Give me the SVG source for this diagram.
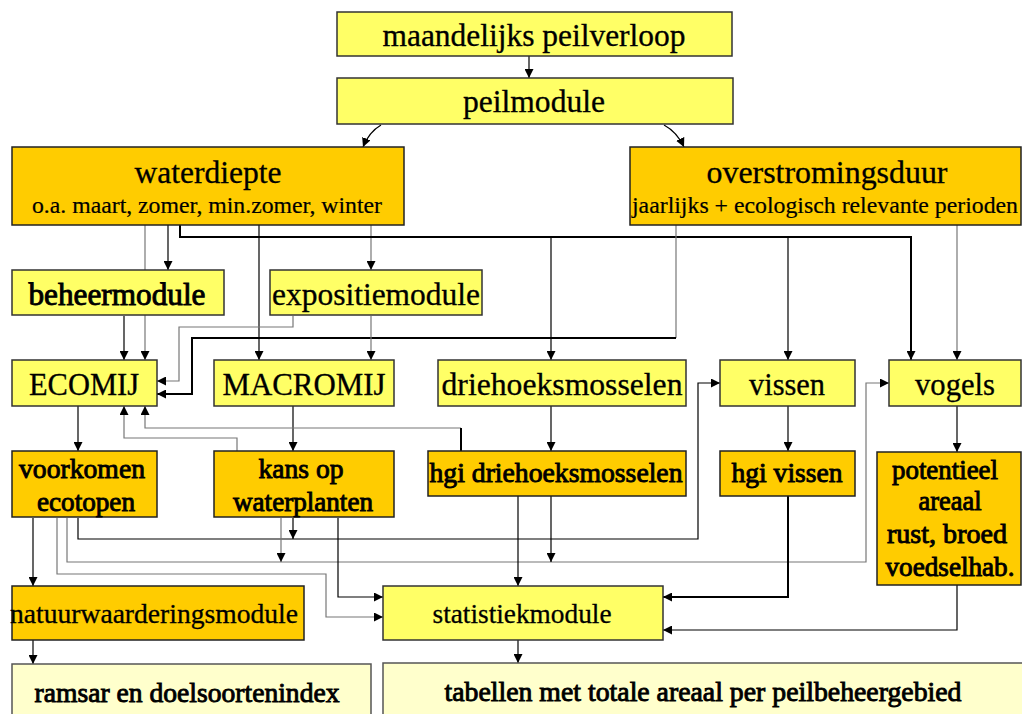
<svg xmlns="http://www.w3.org/2000/svg" width="1022" height="714" viewBox="0 0 1022 714">
<style>
.y{fill:#FFFF66;stroke:#333;stroke-width:1.5}
.o{fill:#FFCC00;stroke:#222;stroke-width:1.5}
.p{fill:#FFFFCC;stroke:#555;stroke-width:1.5}
text{font-family:"Liberation Serif","Times New Roman",serif;fill:#000;stroke:#000;stroke-width:0.3;text-anchor:middle;font-size:31px}
.s{font-size:23px;stroke-width:0.2}
.h{stroke-width:0.9}
.m{font-size:28px}
.n{font-size:27px}
.k{fill:none;stroke:#000;stroke-width:1.2}
.g{fill:none;stroke:#777;stroke-width:1.2}
.t{fill:none;stroke:#000;stroke-width:2}
</style>
<defs>
<marker id="a" markerUnits="userSpaceOnUse" markerWidth="9" markerHeight="9" refX="9" refY="4.5" orient="auto" viewBox="0 0 9 9">
<path d="M0,0 L9,4.5 L0,9 z" fill="#000"/>
</marker>
</defs>
<g id="connectors">
<path class="k" d="M529,56 V78" marker-end="url(#a)"/>
<path class="k" d="M381,125 Q369,132 363,147" marker-end="url(#a)"/>
<path class="k" d="M664,125 Q677,132 684,147" marker-end="url(#a)"/>
<path class="g" d="M145,225 V360" marker-end="url(#a)"/>
<path class="k" d="M168,225 V270" marker-end="url(#a)"/>
<path class="k" d="M259,225 V360" marker-end="url(#a)"/>
<path class="g" d="M371,225 V270" marker-end="url(#a)"/>
<path class="t" d="M180,225 V237 H911 V360" marker-end="url(#a)"/>
<path class="k" d="M551,237 V360" marker-end="url(#a)"/>
<path class="k" d="M788,237 V360" marker-end="url(#a)"/>
<path class="g" d="M957,225 V360" marker-end="url(#a)"/>
<path class="g" d="M676,225 V338"/>
<path class="t" d="M676,338 H192 V394 H157" marker-end="url(#a)"/>
<path class="k" d="M124,316 V360" marker-end="url(#a)"/>
<path class="g" d="M293,316 V327 H179 V381 H157" marker-end="url(#a)"/>
<path class="g" d="M371,316 V360" marker-end="url(#a)"/>
<path class="k" d="M78,406 V451" marker-end="url(#a)"/>
<path class="k" d="M293,406 V451" marker-end="url(#a)"/>
<path class="k" d="M551,406 V451" marker-end="url(#a)"/>
<path class="k" d="M788,406 V451" marker-end="url(#a)"/>
<path class="k" d="M957,406 V452" marker-end="url(#a)"/>
<path class="g" d="M237,451 V438 H124 V406" marker-end="url(#a)"/>
<path class="g" d="M461,428 H145 V406" marker-end="url(#a)"/>
<path class="t" d="M461,451 V428"/>
<path class="k" d="M33,518 V586" marker-end="url(#a)"/>
<path class="k" d="M78,518 V539 H698 V383 H720" marker-end="url(#a)"/>
<path class="g" d="M67,518 V562 H866 V383 H889" marker-end="url(#a)"/>
<path class="g" d="M57,518 V574 H326 V617 H383" marker-end="url(#a)"/>
<path class="k" d="M293,518 V539" marker-end="url(#a)"/>
<path class="g" d="M281,518 V562" marker-end="url(#a)"/>
<path class="k" d="M338,518 V597 H383" marker-end="url(#a)"/>
<path class="k" d="M518,496 V586" marker-end="url(#a)"/>
<path class="k" d="M551,496 V562" marker-end="url(#a)"/>
<path class="t" d="M788,496 V597 H663" marker-end="url(#a)"/>
<path class="k" d="M957,585 V630 H663" marker-end="url(#a)"/>
<path class="k" d="M33,640 V664" marker-end="url(#a)"/>
<path class="k" d="M518,640 V663" marker-end="url(#a)"/>
</g>
<g id="maandelijks">
<rect class="y" x="337" y="12" width="395" height="44"/>
<text x="534" y="46" textLength="303" lengthAdjust="spacingAndGlyphs">maandelijks peilverloop</text>
</g>
<g id="peilmodule">
<rect class="y" x="337" y="78" width="396" height="46"/>
<text x="534" y="112" font-size="32" textLength="142" lengthAdjust="spacingAndGlyphs">peilmodule</text>
</g>
<g id="waterdiepte">
<rect class="o" x="12" y="147" width="392" height="78"/>
<text x="208" y="183" font-size="32" textLength="147" lengthAdjust="spacingAndGlyphs">waterdiepte</text>
<text class="s" x="207" y="213" textLength="350" lengthAdjust="spacingAndGlyphs">o.a. maart, zomer, min.zomer, winter</text>
</g>
<g id="overstromingsduur">
<rect class="o" x="630" y="147" width="391" height="78"/>
<text x="827" y="183" font-size="32" textLength="241" lengthAdjust="spacingAndGlyphs">overstromingsduur</text>
<text class="s" x="825" y="213" textLength="386" lengthAdjust="spacingAndGlyphs">jaarlijks + ecologisch relevante perioden</text>
</g>
<g id="beheermodule">
<rect class="y" x="12" y="270" width="212" height="45"/>
<text class="h" x="117" y="305" textLength="177" lengthAdjust="spacingAndGlyphs">beheermodule</text>
</g>
<g id="expositiemodule">
<rect class="y" x="270" y="270" width="212" height="45"/>
<text x="376" y="305" textLength="208" lengthAdjust="spacingAndGlyphs">expositiemodule</text>
</g>
<g id="ecomij">
<rect class="y" x="12" y="360" width="145" height="46"/>
<text x="84" y="395" font-size="30" textLength="110" lengthAdjust="spacingAndGlyphs">ECOMIJ</text>
</g>
<g id="macromij">
<rect class="y" x="214" y="360" width="180" height="46"/>
<text x="304" y="395" textLength="163" lengthAdjust="spacingAndGlyphs">MACROMIJ</text>
</g>
<g id="driehoeksmosselen">
<rect class="y" x="438" y="360" width="248" height="46"/>
<text x="562" y="395" font-size="32" textLength="241" lengthAdjust="spacingAndGlyphs">driehoeksmosselen</text>
</g>
<g id="vissen">
<rect class="y" x="720" y="360" width="135" height="46"/>
<text x="787" y="395" font-size="30" textLength="76" lengthAdjust="spacingAndGlyphs">vissen</text>
</g>
<g id="vogels">
<rect class="y" x="889" y="360" width="132" height="46"/>
<text x="955" y="395" textLength="80" lengthAdjust="spacingAndGlyphs">vogels</text>
</g>
<g id="voorkomen">
<rect class="o" x="12" y="451" width="145" height="66"/>
<text class="m h" x="82" y="478" textLength="126" lengthAdjust="spacingAndGlyphs">voorkomen</text>
<text class="n h" x="86" y="511" textLength="98" lengthAdjust="spacingAndGlyphs">ecotopen</text>
</g>
<g id="kansop">
<rect class="o" x="214" y="451" width="180" height="66"/>
<text class="m h" x="301" y="478" textLength="85" lengthAdjust="spacingAndGlyphs">kans op</text>
<text class="n h" x="303" y="511" textLength="140" lengthAdjust="spacingAndGlyphs">waterplanten</text>
</g>
<g id="hgidriehoeks">
<rect class="o" x="428" y="451" width="258" height="45"/>
<text class="m h" x="556" y="482" textLength="253" lengthAdjust="spacingAndGlyphs">hgi driehoeksmosselen</text>
</g>
<g id="hgivissen">
<rect class="o" x="720" y="451" width="135" height="45"/>
<text class="m h" x="787" y="482" textLength="111" lengthAdjust="spacingAndGlyphs">hgi vissen</text>
</g>
<g id="potentieel">
<rect class="o" x="877" y="452" width="144" height="133"/>
<text class="n h" x="945" y="479" textLength="106" lengthAdjust="spacingAndGlyphs">potentieel</text>
<text class="n h" x="950" y="510" textLength="63" lengthAdjust="spacingAndGlyphs">areaal</text>
<text class="n h" x="947" y="543" textLength="120" lengthAdjust="spacingAndGlyphs">rust, broed</text>
<text class="n h" x="950" y="576" textLength="129" lengthAdjust="spacingAndGlyphs">voedselhab.</text>
</g>
<g id="natuurwaardering">
<rect class="o" x="12" y="586" width="292" height="54"/>
<text class="m" x="154" y="623" textLength="288" lengthAdjust="spacingAndGlyphs">natuurwaarderingsmodule</text>
</g>
<g id="statistiekmodule">
<rect class="y" x="383" y="586" width="280" height="54"/>
<text class="m" x="522" y="623" textLength="179" lengthAdjust="spacingAndGlyphs">statistiekmodule</text>
</g>
<g id="ramsar">
<rect class="p" x="12" y="664" width="359" height="60"/>
<text class="m h" x="187" y="702" textLength="305" lengthAdjust="spacingAndGlyphs">ramsar en doelsoortenindex</text>
</g>
<g id="tabellen">
<rect class="p" x="383" y="663" width="645" height="60"/>
<text class="m h" x="703" y="701" textLength="517" lengthAdjust="spacingAndGlyphs">tabellen met totale areaal per peilbeheergebied</text>
</g>
</svg>
